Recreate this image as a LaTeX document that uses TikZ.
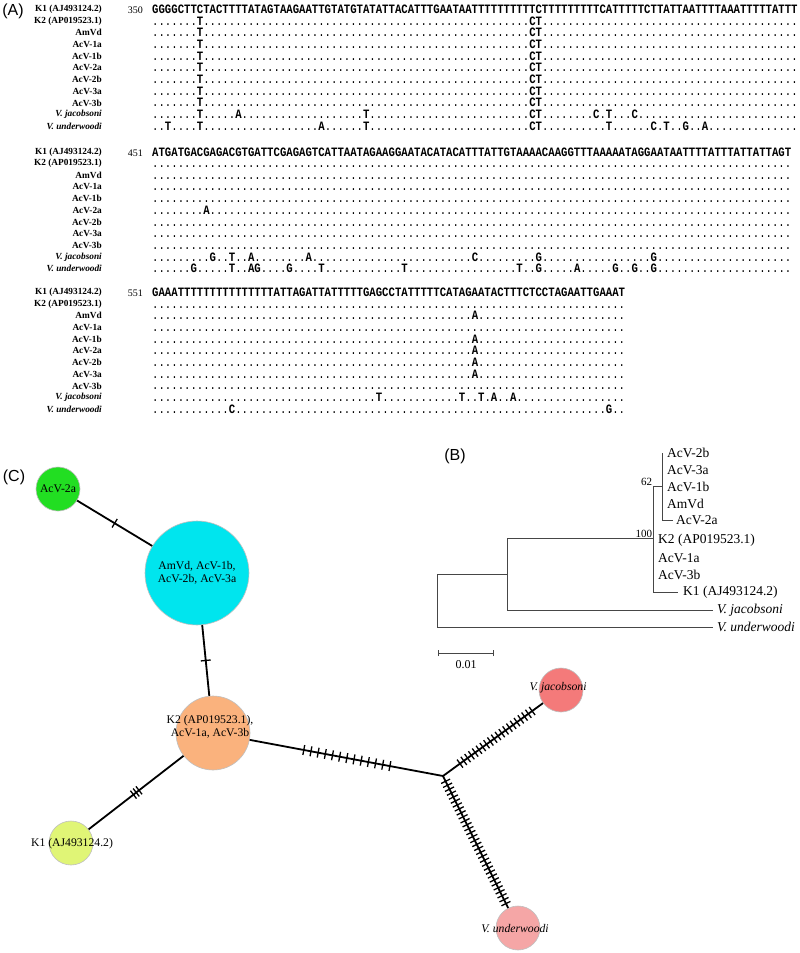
\documentclass[tikz,border=0pt]{standalone}
\usepackage{fontspec}
\usepackage{graphicx}
\setmainfont{Liberation Serif}
\newfontfamily\sansf{Liberation Sans}
\newfontfamily\monof{Liberation Mono}
\usetikzlibrary{decorations.markings}
\ExplSyntaxOn
\cs_new:Npn \dts #1 {{\mdseries\prg_replicate:nn{#1}{.}}}
\ExplSyntaxOff
\newcommand\sq[1]{\scalebox{1}[1.2]{\monof\bfseries\fontsize{10.65}{12}\selectfont #1}}
\definecolor{hgreen}{RGB}{34,222,34}
\definecolor{hcyan}{RGB}{0,229,238}
\definecolor{horange}{RGB}{250,178,125}
\definecolor{hyellow}{RGB}{224,245,118}
\definecolor{hjac}{RGB}{244,122,122}
\definecolor{hund}{RGB}{245,166,166}
\definecolor{treegray}{RGB}{70,70,70}
\newcommand\arow[5]{\node[#3] (l#1) at (102,#2) {#4}; \node[seqn] (s#1) at (152,#2+4) {\sq{#5}};}
\begin{document}
\begin{tikzpicture}[x=1pt,y=-1pt,
  lab/.style={anchor=east, inner sep=0, font=\fontsize{9.3}{10}\selectfont\bfseries},
  labi/.style={lab, font=\fontsize{9.3}{10}\selectfont\bfseries\itshape},
  num/.style={anchor=base east, inner sep=0, font=\fontsize{10}{12}\selectfont},
  seqn/.style={anchor=base west, inner sep=0},
  panel/.style={inner sep=0, font=\sansf\fontsize{16}{18}\selectfont},
  tree/.style={draw=treegray, line width=0.8pt},
  leaf/.style={anchor=west, inner sep=0, font=\fontsize{13.5}{15}\selectfont},
  leafi/.style={leaf, font=\fontsize{13.5}{15}\selectfont\itshape},
  boot/.style={anchor=south east, inner sep=0.6pt, font=\fontsize{11}{12}\selectfont},
  hap/.style={circle, draw=black!25, line width=0.6pt, inner sep=0},
  hlab/.style={inner sep=0, align=center, font=\fontsize{11.7}{13.5}\selectfont},
  hlabi/.style={hlab, font=\fontsize{11.7}{13.5}\selectfont\itshape},
  edge/.style={line width=1.8pt},
  onetick/.style={postaction={decorate, decoration={markings, mark=at position 0.5 with {\draw[line width=1.3pt] (0pt,-5pt) -- (0pt,5pt);}}}},
  mut/.style n args={3}{postaction={decorate, decoration={markings, mark=between positions #1 and #2 step #3 with {\draw[line width=1.3pt] (0pt,-5pt) -- (0pt,5pt);}}}}
]
\useasboundingbox[fill=white] (0,0) rectangle (800,953);

% ---------------- Panel A ----------------
\node[panel] (pA) at (13,11) {(A)};
% block 1
\node[lab] (lh1) at (102,9) {K1 (AJ493124.2)};
\node[num] (nh1) at (143,13) {350};
\node[seqn] (sh1) at (152,13) {\sq{GGGGCTTCTACTTTTATAGTAAGAATTGTATGTATATTACATTTGAATAATTTTTTTTTTCTTTTTTTTTCATTTTTCTTATTAATTTTAAATTTTTATTT}};
\arow{a1}{21}{lab}{K2 (AP019523.1)}{\dts{7}T\dts{51}CT\dts{40}}
\arow{a2}{32.7}{lab}{AmVd}{\dts{7}T\dts{51}CT\dts{40}}
\arow{a3}{44.4}{lab}{AcV-1a}{\dts{7}T\dts{51}CT\dts{40}}
\arow{a4}{56.1}{lab}{AcV-1b}{\dts{7}T\dts{51}CT\dts{40}}
\arow{a5}{67.8}{lab}{AcV-2a}{\dts{7}T\dts{51}CT\dts{40}}
\arow{a6}{79.5}{lab}{AcV-2b}{\dts{7}T\dts{51}CT\dts{40}}
\arow{a7}{91.2}{lab}{AcV-3a}{\dts{7}T\dts{51}CT\dts{40}}
\arow{a8}{102.9}{lab}{AcV-3b}{\dts{7}T\dts{51}CT\dts{40}}
\arow{a9}{114.6}{labi}{V. jacobsoni}{\dts{7}T\dts{5}A\dts{19}T\dts{25}CT\dts{8}C\dts{1}T\dts{3}C\dts{25}}
\arow{a10}{126.3}{labi}{V. underwoodi}{\dts{2}T\dts{4}T\dts{18}A\dts{6}T\dts{25}CT\dts{10}T\dts{6}C\dts{1}T\dts{2}G\dts{2}A\dts{14}}
% block 2
\node[lab] (lh2) at (102,152) {K1 (AJ493124.2)};
\node[num] (nh2) at (143,156) {451};
\node[seqn] (sh2) at (152,156) {\sq{ATGATGACGAGACGTGATTCGAGAGTCATTAATAGAAGGAATACATACATTTATTGTAAAACAAGGTTTAAAAATAGGAATAATTTTATTTATTATTAGT}};
\arow{b1}{163.5}{lab}{K2 (AP019523.1)}{\dts{100}}
\arow{b2}{175.2}{lab}{AmVd}{\dts{100}}
\arow{b3}{186.9}{lab}{AcV-1a}{\dts{100}}
\arow{b4}{198.6}{lab}{AcV-1b}{\dts{100}}
\arow{b5}{210.3}{lab}{AcV-2a}{\dts{8}A\dts{91}}
\arow{b6}{222}{lab}{AcV-2b}{\dts{100}}
\arow{b7}{233.7}{lab}{AcV-3a}{\dts{100}}
\arow{b8}{245.4}{lab}{AcV-3b}{\dts{100}}
\arow{b9}{257.1}{labi}{V. jacobsoni}{\dts{9}G\dts{2}T\dts{2}A\dts{8}A\dts{25}C\dts{9}G\dts{17}G\dts{21}}
\arow{b10}{268.8}{labi}{V. underwoodi}{\dts{6}G\dts{5}T\dts{2}AG\dts{4}G\dts{4}T\dts{12}T\dts{17}T\dts{2}G\dts{5}A\dts{5}G\dts{2}G\dts{2}G\dts{21}}
% block 3
\node[lab] (lh3) at (102,292) {K1 (AJ493124.2)};
\node[num] (nh3) at (143,296) {551};
\node[seqn] (sh3) at (152,296) {\sq{GAAATTTTTTTTTTTTTTTATTAGATTATTTTTGAGCCTATTTTTCATAGAATACTTTCTCCTAGAATTGAAAT}};
\arow{c1}{304}{lab}{K2 (AP019523.1)}{\dts{74}}
\arow{c2}{315.7}{lab}{AmVd}{\dts{50}A\dts{23}}
\arow{c3}{327.4}{lab}{AcV-1a}{\dts{74}}
\arow{c4}{339.1}{lab}{AcV-1b}{\dts{50}A\dts{23}}
\arow{c5}{350.8}{lab}{AcV-2a}{\dts{50}A\dts{23}}
\arow{c6}{362.5}{lab}{AcV-2b}{\dts{50}A\dts{23}}
\arow{c7}{374.2}{lab}{AcV-3a}{\dts{50}A\dts{23}}
\arow{c8}{385.9}{lab}{AcV-3b}{\dts{74}}
\arow{c9}{397.6}{labi}{V. jacobsoni}{\dts{35}T\dts{12}T\dts{2}T\dts{1}A\dts{2}A\dts{17}}
\arow{c10}{409.3}{labi}{V. underwoodi}{\dts{12}C\dts{58}G\dts{2}}

% ---------------- Panel B ----------------
\node[panel] (pB) at (455,456) {(B)};
\coordinate (ra) at (437,574);
\coordinate (rb) at (437,627);
\coordinate (n2) at (507,574);
\coordinate (n2t) at (507,538);
\coordinate (n2b) at (507,610);
\coordinate (n1t) at (653,486);
\coordinate (n1m) at (653,538);
\coordinate (n1b) at (653,592);
\coordinate (n6m) at (662,486);
\coordinate (n6t) at (662,453);
\coordinate (n6b) at (662,520);
\coordinate (eund) at (713,627);
\coordinate (ejac) at (713,610);
\coordinate (ek1) at (678,592);
\coordinate (e2a) at (673,520);
\draw[tree] (ra) -- (rb) -- (eund);
\draw[tree] (ra) -- (n2);
\draw[tree] (n2t) -- (n2b) -- (ejac);
\draw[tree] (n2t) -- (n1m);
\draw[tree] (n1t) -- (n1b) -- (ek1);
\draw[tree] (n1t) -- (n6m);
\draw[tree] (n6t) -- (n6b) -- (e2a);
\node[leaf] (t2b) at (667,453) {AcV-2b};
\node[leaf] (t3a) at (667,470) {AcV-3a};
\node[leaf] (t1b) at (667,487) {AcV-1b};
\node[leaf] (tam) at (667,504) {AmVd};
\node[leaf] (t2a) at (676,520) {AcV-2a};
\node[leaf] (tk2) at (658,540) {K2 (AP019523.1)};
\node[leaf] (t1a) at (658,558) {AcV-1a};
\node[leaf] (t3b) at (658,575) {AcV-3b};
\node[leaf] (tk1) at (683,592) {K1 (AJ493124.2)};
\node[leafi] (tjac) at (717,610) {V. jacobsoni};
\node[leafi] (tund) at (717,627) {V. underwoodi};
\node[boot] (b62) at (n1t) {62};
\node[boot] (b100) at (n1m) {100};
\coordinate (sba) at (438,653);
\coordinate (sbb) at (493,653);
\draw[tree] (sba) -- (sbb);
\draw[tree] ([yshift=-3pt]sba) -- ([yshift=3pt]sba);
\draw[tree] ([yshift=-3pt]sbb) -- ([yshift=3pt]sbb);
\node[inner sep=0, font=\fontsize{12}{13}\selectfont] (sbl) at (466,665) {0.01};

% ---------------- Panel C ----------------
\node[panel] (pC) at (14,477) {(C)};
\node[hap, fill=hgreen, minimum size=44pt] (hg) at (58,489) {};
\node[hap, fill=hcyan, minimum size=104pt] (hc) at (197,573) {};
\node[hap, fill=horange, minimum size=74pt] (ho) at (213,733) {};
\node[hap, fill=hyellow, minimum size=44pt] (hy) at (71,843) {};
\node[hap, fill=hjac, minimum size=44pt] (hj) at (561,690) {};
\node[hap, fill=hund, minimum size=44pt] (hu) at (518,928) {};
\coordinate (jn) at (443,776);
\draw[edge, onetick] (hg) -- (hc);
\draw[edge, onetick] (hc) -- (ho);
\draw[edge, mut={0.47}{0.54}{3.5pt}] (ho) -- (hy);
\draw[edge, mut={0.28}{0.74}{7.3pt}] (ho) -- (jn);
\draw[edge, mut={0.17}{0.91}{4.7pt}] (jn) -- (hj);
\draw[edge, mut={0.04}{0.98}{4.4pt}] (jn) -- (hu);
\node[hlab] (tg) at (hg) {AcV-2a};
\node[hlab] (tc) at (hc) {AmVd, AcV-1b,\\AcV-2b, AcV-3a};
\node[hlab] (to) at (210,727) {K2 (AP019523.1),\\AcV-1a, AcV-3b};
\node[hlab] (ty) at (72,844) {K1 (AJ493124.2)};
\node[hlabi] (tj) at (558,688) {V. jacobsoni};
\node[hlabi] (tu) at (515,929) {V. underwoodi};
\end{tikzpicture}
\end{document}
